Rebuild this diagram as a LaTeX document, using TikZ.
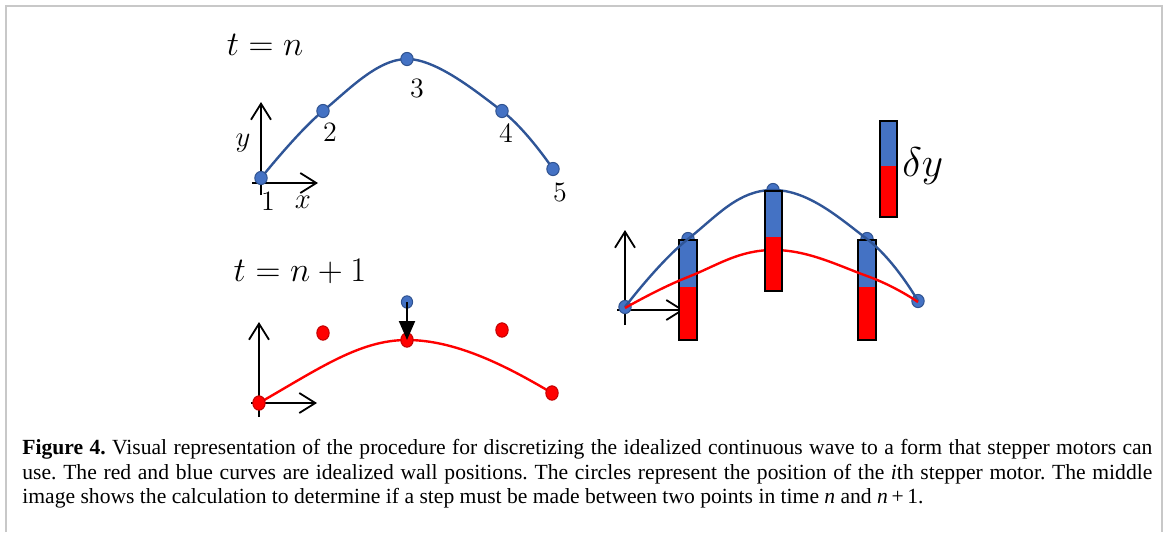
\documentclass[tikz,border=0pt]{standalone}
\usepackage{fontspec}
\newfontfamily\capfont{Liberation Serif}
\usepackage{tikz}
\usetikzlibrary{arrows.meta, positioning, shapes.geometric}
\definecolor{dotblue}{HTML}{4472C4}
\definecolor{lineblue}{HTML}{2F5597}
\definecolor{edgeblue}{HTML}{2F528F}
\definecolor{edgered}{HTML}{C00000}
\definecolor{framegray}{HTML}{C8C8C8}

\begin{document}
\begin{tikzpicture}[x=0.5pt, y=-0.5pt,
    bdot/.style={ellipse, draw=edgeblue, fill=dotblue, line width=0.5pt, minimum width=6.2pt, minimum height=6.6pt, inner sep=0pt},
    rdot/.style={ellipse, draw=edgered, fill=red, line width=0.5pt, minimum width=6.2pt, minimum height=7.2pt, inner sep=0pt},
    bcurve/.style={draw=lineblue, line width=1.2pt},
    rcurve/.style={draw=red, line width=1.2pt},
    axis/.style={draw=black, line width=0.9pt, -{Straight Barb[length=8pt, width=10pt]}},
    numlbl/.style={inner sep=0pt, font=\fontsize{14}{16}\selectfont},
    mathlbl/.style={inner sep=0pt, font=\fontsize{19}{22}\selectfont},
    barfill/.style={line width=1.2pt}]
    \useasboundingbox (0,0) rectangle (1168,532);
    \draw[framegray, line width=1pt] (5.5,532) -- (5.5,5.5) -- (1161.5,5.5) -- (1161.5,532);

    % t = n
    \node[mathlbl] (tn) at (265,45) {$t=n$};
    \coordinate (a1) at (261,178);
    \coordinate (a2) at (323,111);
    \coordinate (a3) at (407,59);
    \coordinate (a4) at (502,111);
    \coordinate (a5) at (553,169);
    \coordinate (ya0) at (261,195);
    \coordinate (ya1) at (261,102);
    \coordinate (xa0) at (252,183);
    \coordinate (xa1) at (318,183);
    \draw[axis] (ya0) -- (ya1);
    \draw[axis] (xa0) -- (xa1);
    \draw[bcurve] plot[smooth, tension=0.6] coordinates {(a1) (a2) (a3) (a4) (a5)};
    \foreach \i in {1,...,5}
        \node[bdot] (d\i) at (a\i) {};
    \node[numlbl] (l1) at (268,201) {1};
    \node[numlbl] (l2) at (330,132) {2};
    \node[numlbl] (l3) at (417,88) {3};
    \node[numlbl] (l4) at (506,133) {4};
    \node[numlbl] (l5) at (560,192) {5};
    \node[numlbl] (ylbl) at (243,143) {$y$};
    \node[numlbl] (xlbl) at (303,202) {$x$};

    % t = n+1
    \node[mathlbl] (tn1) at (300,271) {$t=n+1$};
    \coordinate (r1) at (259,403);
    \coordinate (r2) at (323,333);
    \coordinate (r3) at (407,340);
    \coordinate (r4) at (502,330);
    \coordinate (r5) at (552,393);
    \coordinate (yb0) at (259,417);
    \coordinate (yb1) at (259,322);
    \coordinate (xb0) at (251,403);
    \coordinate (xb1) at (317,403);
    \draw[axis] (yb0) -- (yb1);
    \draw[axis] (xb0) -- (xb1);
    \draw[rcurve] (r1) .. controls (320,368) and (360,340) .. (r3)
        .. controls (455,340) and (505,365) .. (r5);
    \foreach \i in {1,...,5}
        \node[rdot] (e\i) at (r\i) {};
    \node[bdot, minimum width=5.6pt, minimum height=6.2pt] (old) at (407,302) {};
    \draw[line width=1pt, -{Triangle[length=9.5pt, width=8pt]}] (old.center) -- (e3.center);

    % right panel
    \coordinate (c1) at (625,307);
    \coordinate (c2) at (688,239);
    \coordinate (c3) at (773,190);
    \coordinate (c4) at (867,239);
    \coordinate (c5) at (918,301);
    \coordinate (yc0) at (625,325);
    \coordinate (yc1) at (625,230);
    \coordinate (xc0) at (617,310);
    \coordinate (xc1) at (684,310);
    \draw[axis] (yc0) -- (yc1);
    \draw[axis] (xc0) -- (xc1);
    \foreach \i in {1,...,5}
        \node[bdot] (f\i) at (c\i) {};
    \foreach \xl/\xr in {679/697, 858/876} {
        \fill[dotblue] (\xl,240) rectangle (\xr,287);
        \fill[red] (\xl,287) rectangle (\xr,340);
        \draw[barfill] (\xl,240) rectangle (\xr,340);
    }
    \draw[bcurve] plot[smooth, tension=0.7] coordinates {(c1) (c2) (c3) (c4) (c5)};
    \draw[rcurve] plot[smooth, tension=0.7] coordinates {(625,308) (688,277) (773,250) (867,276) (918,302)};
    \fill[dotblue] (765,191) rectangle (782,237);
    \fill[red] (765,237) rectangle (782,291);
    \draw[barfill] (765,191) rectangle (782,291);

    % delta y
    \fill[dotblue] (880,121) rectangle (897,166);
    \fill[red] (880,166) rectangle (897,217);
    \draw[barfill] (880,121) rectangle (897,217);
    \node[inner sep=0pt, font=\fontsize{20}{24}\selectfont, anchor=west] (dy) at (902,166) {$\delta y$};

    % caption
    \node[anchor=north west, text width=565pt, align=justify, inner sep=0pt,
        font=\capfont\fontsize{10.8}{12.25}\selectfont\frenchspacing] (cap) at (22,439)
        {\textbf{Figure 4.} Visual representation of the procedure for discretizing the idealized continuous wave to a form that stepper motors can\linebreak
        use. The red and blue curves are idealized wall positions. The circles represent the position of the \textit{i}th stepper motor. The middle\linebreak
        image shows the calculation to determine if a step must be made between two points in time \textit{n} and \textit{n}\,+\,1.};
\end{tikzpicture}
\end{document}
